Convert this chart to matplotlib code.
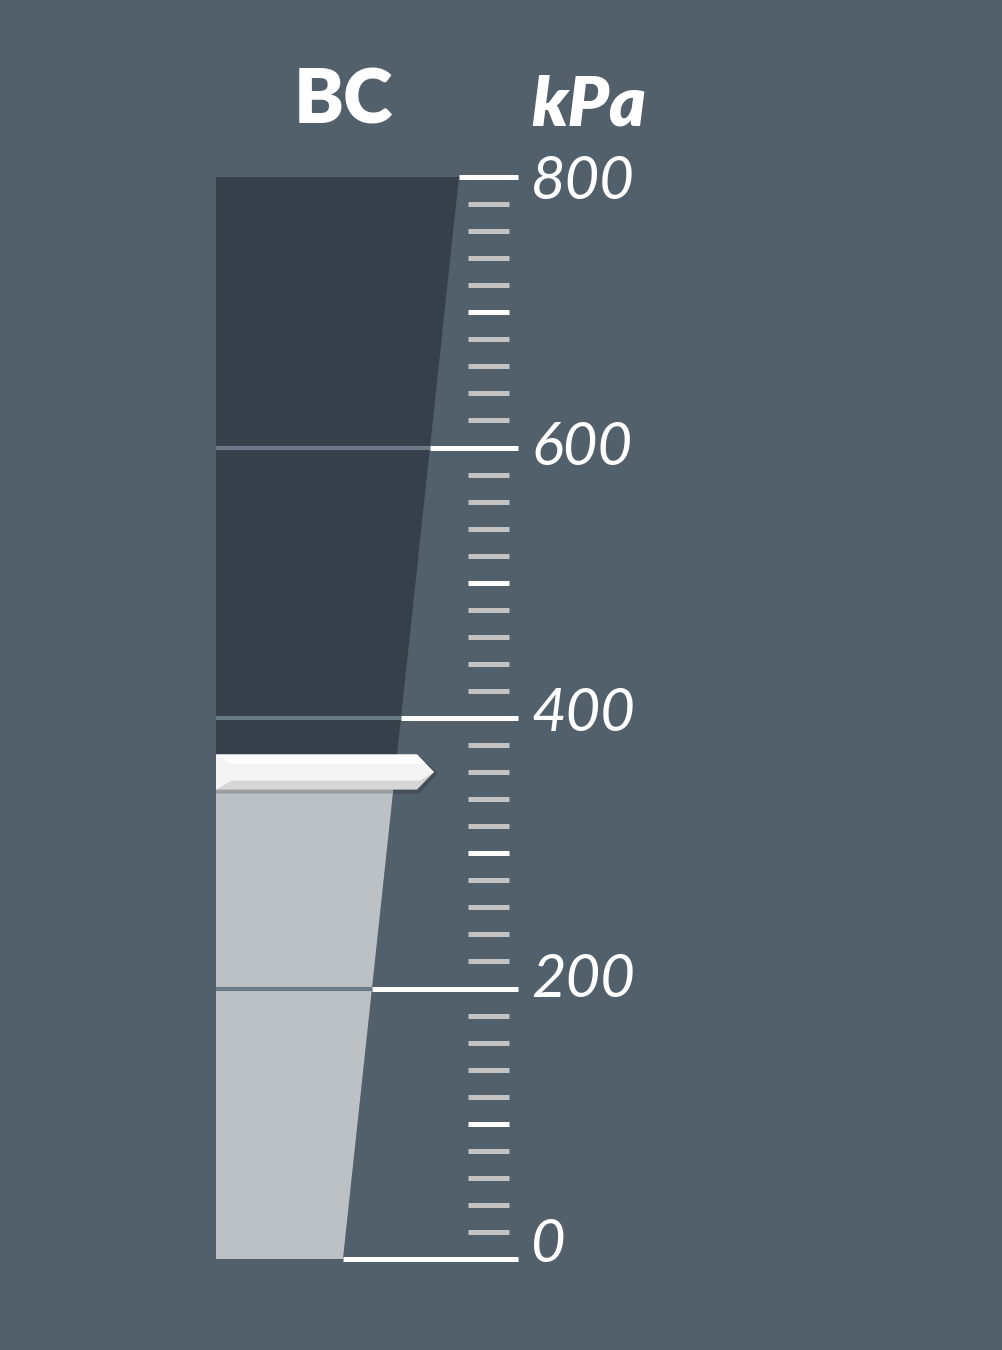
import matplotlib.pyplot as plt
from matplotlib.patches import Polygon
import numpy as np

# gauge data
title = 'BC'
units = 'kPa'
gauge_min = 0
gauge_max = 800
value = 360
major_ticks = [0, 200, 400, 600, 800]
minor_ticks = list(range(20, 800, 20))
tick_labels = ['0', '200', '400', '600', '800']

bg = '#52606c'
dark = '#36404a'
light = '#bcc1c5'
grid_col = '#6b7b88'

W, H = 1002, 1350
y0_px, y1_px = 1259, 177          # pixel rows of gauge_min and gauge_max
ppu = (y0_px - y1_px) / (gauge_max - gauge_min)
ytop = y0_px / ppu

fig = plt.figure(figsize=(W / 100, H / 100), dpi=100, facecolor=bg)
ax = fig.add_axes([0, 0, 1, 1])
ax.set_facecolor(bg)
ax.set_xlim(0, W)
ax.set_ylim(-(H - y0_px) / ppu, ytop)
ax.axis('off')

# bar geometry (x in pixels, y in gauge units)
bar_left = 216
edge_bot, edge_top = 343, 459


def edge_x(v):
    return edge_bot + (edge_top - edge_bot) * (v - gauge_min) / (gauge_max - gauge_min)


ax.add_patch(Polygon([(bar_left, gauge_min), (edge_x(gauge_min), gauge_min),
                      (edge_x(gauge_max), gauge_max), (bar_left, gauge_max)],
                     closed=True, facecolor=dark, edgecolor='none', zorder=1))
ax.add_patch(Polygon([(bar_left, gauge_min), (edge_x(gauge_min), gauge_min),
                      (edge_x(value), value), (bar_left, value)],
                     closed=True, facecolor=light, edgecolor='none', zorder=2))

# grid lines inside the bar + major ticks
for v in major_ticks:
    if gauge_min < v < gauge_max:
        ax.plot([bar_left, edge_x(v)], [v, v], color=grid_col, lw=3.0,
                solid_capstyle='butt', zorder=3)
    ax.plot([edge_x(v), 518], [v, v], color='white', lw=3.6,
            solid_capstyle='butt', zorder=3)

# minor ticks
for v in minor_ticks:
    if v in major_ticks:
        continue
    col = 'white' if v % 100 == 0 else '#c3c3c3'
    ax.plot([468, 509], [v, v], color=col, lw=3.6, solid_capstyle='butt', zorder=3)

# tick labels
lab_font = ['Lato', 'DejaVu Sans']
for v, lab in zip(major_ticks, tick_labels):
    ax.text(531, 10 + v * 0.983, lab, color='white', fontsize=43, style='italic',
            family=lab_font, ha='left', va='center', zorder=4)

# title and units
ax.text(343, ytop - 102 / ppu, title, color='white', fontsize=54, fontweight='heavy',
        family=['Lato', 'DejaVu Sans'], ha='center', va='center')
ax.text(589, ytop - 106 / ppu, units, color='white', fontsize=50, fontweight='heavy',
        style='italic', family=['Lato', 'DejaVu Sans'], ha='center', va='center')

# pointer
hh = 17.5 / ppu
bev = 9 / ppu
shadow = Polygon([(bar_left, value - hh - 4 / ppu), (419, value - hh - 4 / ppu),
                  (438, value - 1 / ppu), (419, value + hh - 2 / ppu), (bar_left, value + hh)],
                 closed=True, facecolor='black', alpha=0.18, edgecolor='none', zorder=5)
ax.add_patch(shadow)
ax.add_patch(Polygon([(bar_left, value + hh), (417, value + hh), (434, value),
                      (417, value - hh), (bar_left, value - hh)],
                     closed=True, facecolor='#d6d6d6', edgecolor='none', zorder=6))
ax.add_patch(Polygon([(bar_left, value + hh), (417, value + hh), (434, value),
                      (420, value - hh + bev), (232, value - hh + bev), (bar_left, value - hh)],
                     closed=True, facecolor='#f4f4f4', edgecolor='none', zorder=7))
ax.add_patch(Polygon([(bar_left, value + hh), (417, value + hh), (426, value + hh - bev),
                      (232, value + hh - bev)],
                     closed=True, facecolor='white', edgecolor='none', zorder=8))

fig.savefig('out.png', dpi=100, facecolor=bg)
